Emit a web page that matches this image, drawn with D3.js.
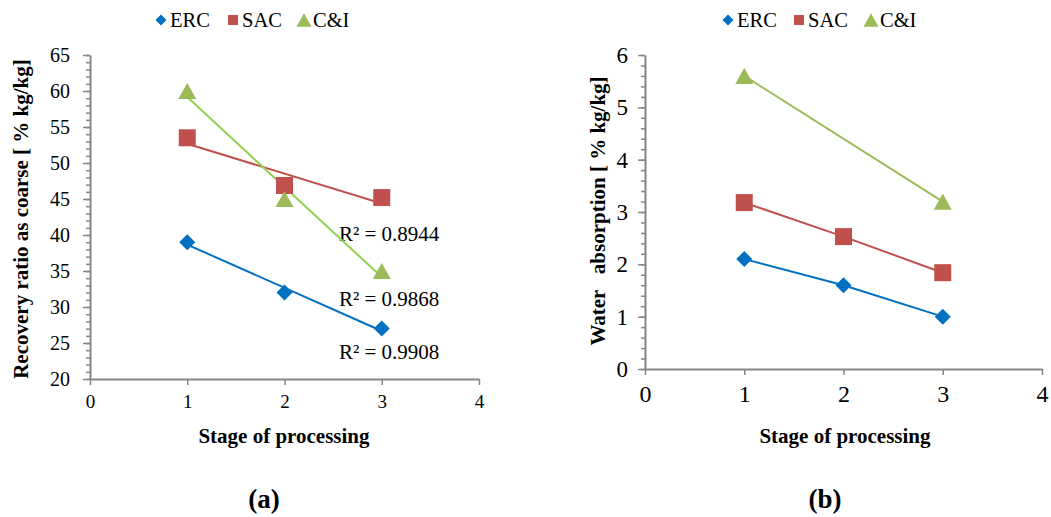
<!DOCTYPE html>
<html>
<head>
<meta charset="utf-8">
<script src="https://cdn.jsdelivr.net/npm/d3@7"></script>
<style>
  body { margin: 0; background: #fff; }
  svg { font-family: "Liberation Serif", "Times New Roman", serif; }
  .ttl { white-space: pre; }
</style>
</head>
<body>
<svg id="chart" width="1051" height="517"></svg>
<script>
// data
var stages = [1, 2, 3];
var seriesNames = ["ERC", "SAC", "C&I"];
var colors = ["#0070C0", "#C0504D", "#9BBB59"];
var trendColors = ["#0070C0", "#C0504D", "#92D050"];

var ercA = [39, 32, 27];
var sacA = [53.5, 46.88, 45.2];
var ciA = [60, 45, 35];

var ercB = [2.1, 1.6, 1.0];
var sacB = [3.18, 2.53, 1.84];
var ciB = [5.6, null, 3.2];

var xTicks = [0, 1, 2, 3, 4];
var yTicksA = [20, 25, 30, 35, 40, 45, 50, 55, 60, 65];
var yTicksB = [0, 1, 2, 3, 4, 5, 6];

var svg = d3.select("#chart");
var axisColor = "#868686";

function shape(type, s) {
  var h = s / 2;
  if (type == 0) return "M0," + (-h) + "L" + h + ",0L0," + h + "L" + (-h) + ",0Z";
  if (type == 1) return "M" + (-h) + "," + (-h) + "H" + h + "V" + h + "H" + (-h) + "Z";
  var th = s * 0.9 / 2;
  return "M0," + (-th) + "L" + h + "," + th + "L" + (-h) + "," + th + "Z";
}

// least squares fit
function fit(xs, ys) {
  var n = xs.length;
  var mx = d3.mean(xs), my = d3.mean(ys);
  var sxy = 0, sxx = 0;
  for (var i = 0; i < n; i++) { sxy += (xs[i]-mx)*(ys[i]-my); sxx += (xs[i]-mx)*(xs[i]-mx); }
  var b = sxy / sxx, a = my - b * mx;
  var ssr = 0, sst = 0;
  for (var i = 0; i < n; i++) { ssr += Math.pow(ys[i] - (a + b*xs[i]), 2); sst += Math.pow(ys[i]-my, 2); }
  return { a: a, b: b, r2: 1 - ssr / sst };
}

function drawChart(cfg) {
  var g = svg.append("g");
  var x = d3.scaleLinear().domain([0, 4]).range([cfg.x0, cfg.x1]);
  var y = d3.scaleLinear().domain(cfg.yDomain).range([cfg.yBottom, cfg.yTop]);
  var fmt = d3.format("~g");

  // minor ticks on y
  g.append("g")
    .attr("transform", "translate(" + cfg.x0 + ",0)")
    .call(d3.axisLeft(y).tickValues(d3.range(cfg.yDomain[0], cfg.yDomain[1] + 1e-9, cfg.minor)).tickSize(4).tickFormat(""))
    .call(function(a) { a.select(".domain").remove(); a.selectAll("line").attr("stroke", axisColor).attr("stroke-width", 1.5); });

  var ya = g.append("g")
    .attr("transform", "translate(" + cfg.x0 + ",0)")
    .call(d3.axisLeft(y).tickValues(cfg.yTicks).tickFormat(fmt).tickSize(7).tickSizeOuter(0).tickPadding(cfg.yPad));
  ya.select(".domain").attr("stroke", axisColor).attr("stroke-width", 2);
  ya.selectAll("line").attr("stroke", axisColor).attr("stroke-width", 1.5);
  ya.selectAll("text").attr("font-family", "Liberation Serif").attr("font-size", cfg.yFont).attr("fill", "#000");

  var xa = g.append("g")
    .attr("transform", "translate(0," + cfg.yBottom + ")")
    .call(d3.axisBottom(x).tickValues(xTicks).tickFormat(fmt).tickSize(6).tickSizeOuter(0).tickPadding(cfg.xPad));
  xa.select(".domain").attr("stroke", axisColor).attr("stroke-width", 2);
  xa.selectAll("line").attr("stroke", axisColor).attr("stroke-width", 1.5);
  xa.selectAll("text").attr("font-family", "Liberation Serif").attr("font-size", cfg.xFont).attr("fill", "#000");

  // lines
  cfg.series.forEach(function(vals, i) {
    var pts = stages.map(function(s, j) { return [s, vals[j]]; }).filter(function(p) { return p[1] != null; });
    if (cfg.trend) {
      var f = fit(pts.map(function(p) { return p[0]; }), pts.map(function(p) { return p[1]; }));
      var ends = [1, 3].map(function(s) { return [s, f.a + f.b * s]; });
      g.append("path")
        .attr("d", d3.line().x(function(d) { return x(d[0]); }).y(function(d) { return y(d[1]); })(ends))
        .attr("fill", "none").attr("stroke", trendColors[i]).attr("stroke-width", 2);
      var lp = cfg.labels[i];
      g.append("text").attr("x", x(lp[0])).attr("y", y(lp[1]))
        .attr("font-size", 21).text("R\u00b2 = " + f.r2.toFixed(4));
    } else {
      g.append("path")
        .attr("d", d3.line().x(function(d) { return x(d[0]); }).y(function(d) { return y(d[1]); })(pts))
        .attr("fill", "none").attr("stroke", colors[i]).attr("stroke-width", 2);
    }
  });

  // markers
  var msize = [16, 17, 18];
  cfg.series.forEach(function(vals, i) {
    var pts = stages.map(function(s, j) { return [s, vals[j]]; }).filter(function(p) { return p[1] != null; });
    g.selectAll(null).data(pts).enter().append("path")
      .attr("d", shape(i, msize[i]))
      .attr("transform", function(d) { return "translate(" + x(d[0]) + "," + y(d[1]) + ")"; })
      .attr("fill", colors[i]);
  });

  // legend
  var lg = g.append("g");
  var lsize = [11, 10, 15];
  seriesNames.forEach(function(n, i) {
    var lx = cfg.legendX[i];
    lg.append("path").attr("d", shape(i, lsize[i])).attr("transform", "translate(" + (lx - 9) + ",20)").attr("fill", colors[i]);
    lg.append("text").attr("x", lx).attr("y", 27).attr("font-size", 20.5).text(n);
  });

  // titles
  g.append("text").attr("class", "ttl")
    .attr("transform", "translate(" + cfg.yTitleX + "," + cfg.yTitleY + ") rotate(-90)")
    .attr("text-anchor", "middle").attr("font-weight", "bold").attr("font-size", 21)
    .text(cfg.yTitle);
  g.append("text").attr("x", cfg.xTitleX).attr("y", 443)
    .attr("text-anchor", "middle").attr("font-weight", "bold").attr("font-size", 21)
    .text("Stage of processing");
  g.append("text").attr("x", cfg.xTitleX - 20).attr("y", 508)
    .attr("text-anchor", "middle").attr("font-weight", "bold").attr("font-size", 27)
    .text(cfg.tag);
}

drawChart({
  x0: 90, x1: 479, yTop: 55, yBottom: 379, yDomain: [20, 65], yTicks: yTicksA, minor: 1,
  yFont: 20, xFont: 19, yPad: 13, xPad: 10,
  series: [ercA, sacA, ciA], trend: true,
  labels: [[2.56, 22.8], [2.56, 39.2], [2.56, 30.1]],
  legendX: [170, 242, 313],
  yTitle: "Recovery ratio as coarse [ % kg/kg]", yTitleX: 28, yTitleY: 219,
  xTitleX: 284, tag: "(a)"
});

drawChart({
  x0: 645, x1: 1042, yTop: 55, yBottom: 369, yDomain: [0, 6], yTicks: yTicksB, minor: 0.2,
  yFont: 23, xFont: 24, yPad: 10, xPad: 10,
  series: [ercB, sacB, ciB], trend: false,
  legendX: [737, 808, 880],
  yTitle: "Water   absorption [ % kg/kg]", yTitleX: 605, yTitleY: 211,
  xTitleX: 845, tag: "(b)"
});
</script>
</body>
</html>
